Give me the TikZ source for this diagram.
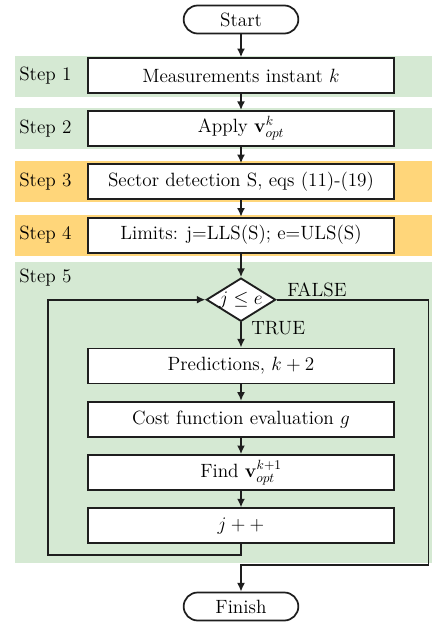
\documentclass[tikz,border=0pt]{standalone}
\usepackage{amsmath}
\usepackage{amssymb}
\usepackage{xcolor}
\usepackage{tikz}
\usetikzlibrary{shapes.geometric,arrows.meta}

\definecolor{bandgreen}{RGB}{213,233,211}
\definecolor{bandorange}{RGB}{255,214,122}
\definecolor{linegray}{RGB}{30,30,30}

\tikzset{
  procbox/.style={draw=linegray, line width=1.4pt, fill=white, minimum width=229.5pt, minimum height=26.25pt, inner sep=0pt},
  termbox/.style={draw=linegray, line width=1.3pt, fill=white, rounded corners=10.5pt, minimum width=86pt, minimum height=21pt, inner sep=0pt},
  decbox/.style={draw=linegray, diamond, line width=1.4pt, fill=white, shape aspect=1.6, inner sep=0pt},
  steplabel/.style={anchor=west, inner sep=0pt},
  flow/.style={-{Latex[length=6.5pt,width=6pt]}, draw=linegray, line width=1.3pt}
}

\begin{document}
\begin{tikzpicture}[x=0.75pt,y=0.75pt,yscale=-1,xscale=1,font=\Large]
\useasboundingbox (0,0) rectangle (432,625);

%Shape: Bands
\fill [bandgreen]  (15,56) rectangle (432,97) ;
\fill [bandgreen]  (15,108) rectangle (432,148.5) ;
\fill [bandorange] (15,161) rectangle (432,202) ;
\fill [bandorange] (15,215) rectangle (432,256) ;
\fill [bandgreen]  (15,262) rectangle (432,563) ;

% Text Node
\node [steplabel] (lab1) at (19,76) {Step 1};
\node [steplabel] (lab2) at (19,128.5) {Step 2};
\node [steplabel] (lab3) at (19,181.5) {Step 3};
\node [steplabel] (lab4) at (19,235) {Step 4};
\node [steplabel] (lab5) at (19,278) {Step 5};

%Shape: Terminals
\node [termbox] (start) at (241,19.5) {Start};
\node [termbox] (finish) at (241,606.5) {Finish};

%Shape: Rectangles
\node [procbox] (meas) at (241,75.7) {Measurements instant $k$};
\node [procbox] (apply) at (241,128.5) {Apply $\mathbf{v}_{opt}^{k}$};
\node [procbox] (sect) at (241,181.7) {Sector detection S, eqs (11)-(19)};
\node [procbox] (lims) at (241,235.2) {Limits: j=LLS(S); e=ULS(S)};

%Shape: Diamond
\node [decbox] (cond) at (241,299.7) {$j \leq e$};

\node [procbox] (pred) at (241,366) {Predictions, $k+2$};
\node [procbox] (cost) at (241,419.3) {Cost function evaluation $g$};
\node [procbox] (find) at (241,472.6) {Find $\mathbf{v}_{opt}^{k+1}$};
\node [procbox] (jinc) at (241,525.9) {$j++$};

% Text Node
\node [anchor=west, inner sep=0pt] (truelab) at (251,328) {TRUE};
\node [anchor=west, inner sep=0pt] (falselab) at (287,289.5) {FALSE};

%Straight Lines
\draw [flow] (start) -- (meas) ;
\draw [flow] (meas) -- (apply) ;
\draw [flow] (apply) -- (sect) ;
\draw [flow] (sect) -- (lims) ;
\draw [flow] (lims) -- (cond) ;
\draw [flow] (cond) -- (pred) ;
\draw [flow] (pred) -- (cost) ;
\draw [flow] (cost) -- (find) ;
\draw [flow] (find) -- (jinc) ;

%Loop back and exit
\coordinate (loopbl) at (48,555) ;
\coordinate (exitbr) at (428.5,565) ;
\draw [flow] (jinc.south) -- (jinc.south |- loopbl) -- (loopbl) |- (cond.west) ;
\draw [flow] (cond.east) -| (exitbr) -| (finish.north) ;

\end{tikzpicture}
\end{document}
